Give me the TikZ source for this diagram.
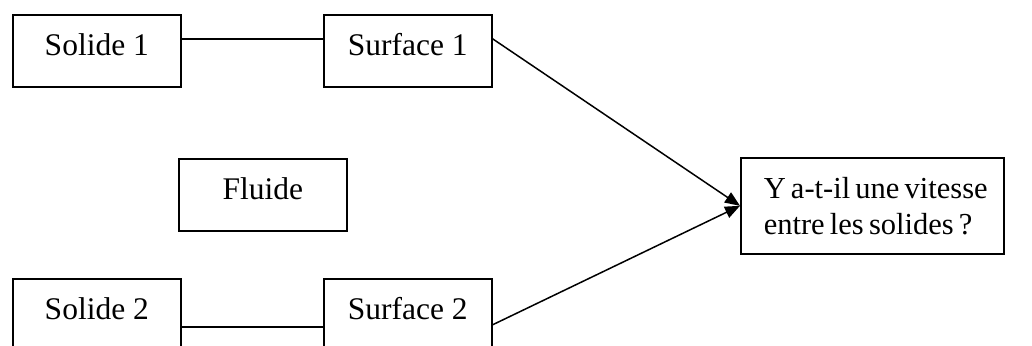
\documentclass[tikz,border=0pt]{standalone}
\usepackage{fontspec}
\setmainfont{Liberation Serif}
\usetikzlibrary{arrows.meta}
\begin{document}
\begin{tikzpicture}[x=1pt,y=-1pt,
  box/.style={draw, line width=1.6pt, anchor=north west, minimum width=168pt,
    inner ysep=0pt, text height=41pt, text depth=31pt, font=\fontsize{31.5}{36}\selectfont},
  link/.style={line width=1.5pt},
  arr/.style={line width=1.5pt, -{Triangle[length=15pt,width=12pt]}},
  every node/.style={font=\fontsize{30.5}{36}\selectfont}]
\useasboundingbox (0,0) rectangle (1032,345);
\clip (0,0) rectangle (1032,345);
\node[box] (so1) at (12,14) {Solide 1};
\node[box] (su1) at (323,14) {Surface 1};
\node[box] (fl) at (178,158) {Fluide};
\node[box] (so2) at (12,278) {Solide 2};
\node[box] (su2) at (323,278) {Surface 2};
\node[draw, line width=1.6pt, anchor=north west, minimum height=96pt,
  text width=263pt, inner xsep=0pt, inner ysep=0pt, align=left] (rq) at (740,157)
  {\spaceskip=0.17em plus 0.05em\hspace*{23pt}Y a-t-il une vitesse\\\hspace*{23pt}entre les solides ?};
\draw[link] ([yshift=12pt]so1.east) -- ([yshift=12pt]su1.west);
\draw[link] ([yshift=-12pt]so2.east) -- ([yshift=-12pt]su2.west);
\draw[arr] ([yshift=12pt]su1.east) -- (rq.west);
\draw[arr] ([yshift=-10pt]su2.east) -- (rq.west);
\end{tikzpicture}
\end{document}
